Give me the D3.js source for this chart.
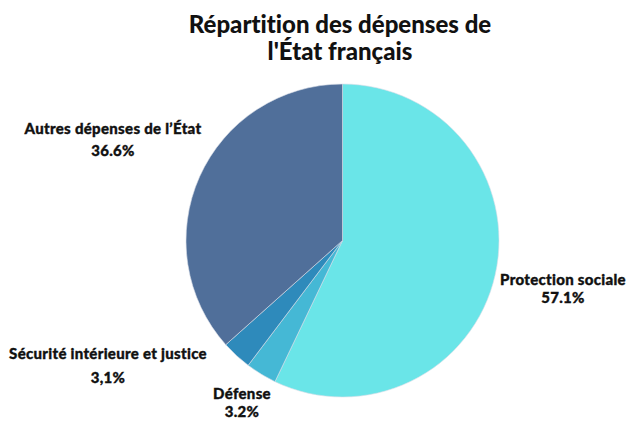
<!DOCTYPE html>
<html>
<head>
<meta charset="utf-8">
<script src="https://cdn.jsdelivr.net/npm/d3@7"></script>
<style>
  body { margin: 0; background: #fff; }
  text { font-family: Lato, "Open Sans", sans-serif; font-weight: 900; fill: #111; font-variant-ligatures: none; }
  .lbl { stroke: #111; stroke-width: 0.35px; }
</style>
</head>
<body>
<svg id="chart" width="636" height="423"></svg>
<script>
var categories = ["Protection sociale", "Défense", "Sécurité intérieure et justice", "Autres dépenses de l’État"];
var values = [57.1, 3.2, 3.1, 36.6];
var valueLabels = ["57.1%", "3.2%", "3,1%", "36.6%"];
var colors = ["#6ae5e8", "#45b8d5", "#2e8abb", "#506f9a"];
// where each label sits (centre of the text block)
var labelPos = [[563, 285], [242, 399], [108, 359], [113, 134]];
var labelGap = [18, 18, 24, 22];

var svg = d3.select("#chart");
var cx = 342.5, cy = 240.5, r = 156.5;

var title = svg.append("text")
  .attr("x", 340).attr("y", 33)
  .attr("text-anchor", "middle")
  .style("font-size", "24px")
title.append("tspan").attr("x", 340).text("Répartition des dépenses de")
title.append("tspan").attr("x", 340).attr("dy", 26.5).text("l'État français")

var pie = d3.pie().sort(null).value(function(d){ return d; });
var arc = d3.arc().innerRadius(0).outerRadius(r);

var g = svg.append("g").attr("transform", "translate(" + cx + "," + cy + ")");
g.selectAll("path")
  .data(pie(values))
  .enter().append("path")
  .attr("d", arc)
  .attr("fill", function(d, i){ return colors[i]; })
  .attr("stroke", "#d8dde8")
  .attr("stroke-width", 0.6);

var labels = svg.selectAll(".lbl")
  .data(categories)
  .enter().append("text")
  .attr("class", "lbl")
  .attr("text-anchor", "middle")
  .style("font-size", "15px")
  .style("letter-spacing", "0.3px")
  .attr("transform", function(d, i){ return "translate(" + labelPos[i][0] + "," + labelPos[i][1] + ")"; });

labels.append("tspan").attr("x", 0).attr("y", 0).text(function(d){ return d; });
labels.append("tspan").attr("x", 0).attr("y", function(d, i){ return labelGap[i]; })
  .text(function(d, i){ return valueLabels[i]; });
</script>
</body>
</html>
